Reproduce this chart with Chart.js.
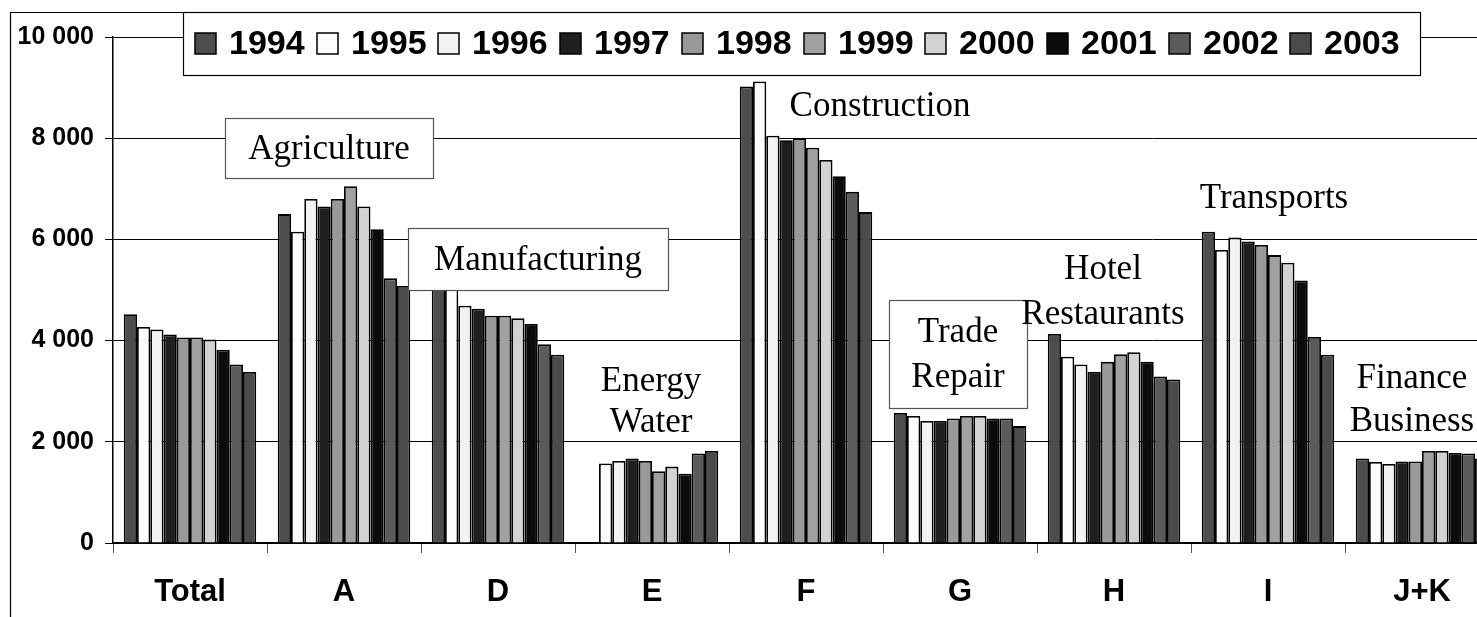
<!DOCTYPE html>
<html>
<head>
<meta charset="utf-8">
<title>Employment by sector 1994-2003</title>
<script src="https://cdn.jsdelivr.net/npm/chart.js@4.4.1/dist/chart.umd.min.js"></script>
<style>
  html, body { margin: 0; padding: 0; background: #fff; overflow: hidden; }
  canvas { display: block; }
</style>
</head>
<body>
<canvas id="chart" width="1500" height="617"></canvas>
<script>
const categories = ["Total", "A", "D", "E", "F", "G", "H", "I", "J+K"];
const years = ["1994", "1995", "1996", "1997", "1998", "1999", "2000", "2001", "2002", "2003"];

// one array per year, one value per sector (Total, A, D, E, F, G, H, I, J+K)
const v1994 = [4520, 6500, 5200, null, 9020, 2570, 4130, 6150, 1670];
const v1995 = [4270, 6150, 5100, 1570, 9120, 2510, 3680, 5790, 1600];
const v1996 = [4220, 6800, 4690, 1620, 8050, 2410, 3530, 6040, 1560];
const v1997 = [4120, 6650, 4630, 1670, 7960, 2410, 3380, 5960, 1610];
const v1998 = [4060, 6800, 4490, 1620, 8000, 2460, 3580, 5890, 1610];
const v1999 = [4060, 7050, 4490, 1420, 7810, 2510, 3730, 5690, 1820];
const v2000 = [4020, 6650, 4440, 1510, 7570, 2510, 3770, 5540, 1820];
const v2001 = [3820, 6200, 4330, 1370, 7250, 2460, 3580, 5190, 1780];
const v2002 = [3530, 5230, 3930, 1770, 6940, 2460, 3290, 4070, 1770];
const v2003 = [3380, 5080, 3720, 1820, 6540, 2310, 3230, 3720, 1670];

const yTickLabels = ["0", "2 000", "4 000", "6 000", "8 000", "10 000"];

const seriesValues = [v1994, v1995, v1996, v1997, v1998, v1999, v2000, v2001, v2002, v2003];
const yearColors = ["#4d4d4d", "#fcfcfc", "#f2f2f2", "#1f1f1f", "#999999",
                    "#a1a1a1", "#d2d2d2", "#0b0b0b", "#5b5b5b", "#4b4b4b"];

// sector names written on the plot, anchored to a category and a y value
const sectorNotes = [
  { lines: ["Agriculture"], cat: 1, dx: -15, v: 7806, box: [208, 60] },
  { lines: ["Manufacturing"], cat: 2, dx: 40, v: 5613, box: [260, 62] },
  { lines: ["Energy", "Water"], cat: 3, dx: -1, v: 2816, gap: 41 },
  { lines: ["Construction"], cat: 4, dx: 74, v: 8656 },
  { lines: ["Trade", "Repair"], cat: 5, dx: -2, v: 3740, box: [138, 108], gap: 45 },
  { lines: ["Hotel", "Restaurants"], cat: 6, dx: -11, v: 4990, gap: 45 },
  { lines: ["Transports"], cat: 7, dx: 6, v: 6838 },
  { lines: ["Finance", "Business"], cat: 8, dx: -10, v: 2856, gap: 43 }
];

const whiteBg = {
  id: "whiteBg",
  beforeDraw(chart) {
    const ctx = chart.ctx;
    ctx.save();
    ctx.fillStyle = "#fff";
    ctx.fillRect(0, 0, chart.width, chart.height);
    ctx.restore();
  }
};

const notesPlugin = {
  id: "sectorNotes",
  afterDatasetsDraw(chart) {
    const { ctx, scales: { x, y } } = chart;
    ctx.save();
    ctx.font = '35px "Liberation Serif", "Times New Roman", serif';
    ctx.textAlign = "center";
    ctx.textBaseline = "middle";
    sectorNotes.forEach(n => {
      const cx = x.getPixelForValue(n.cat) + n.dx;
      const cy = y.getPixelForValue(n.v);
      if (n.box) {
        const [w, h] = n.box;
        ctx.fillStyle = "#fff";
        ctx.fillRect(cx - w / 2, cy - h / 2, w, h);
        ctx.strokeStyle = "#555";
        ctx.lineWidth = 1.2;
        ctx.strokeRect(Math.round(cx - w / 2) + 0.5, Math.round(cy - h / 2) + 0.5, w, h);
      }
      ctx.fillStyle = "#000";
      const gap = n.gap || 0;
      n.lines.forEach((t, k) => {
        ctx.fillText(t, cx, cy + (k - (n.lines.length - 1) / 2) * gap + 2);
      });
    });
    ctx.restore();
  }
};

// outer frame and the boxed legend along the top
const frameLegend = {
  id: "frameLegend",
  afterDraw(chart) {
    const ctx = chart.ctx;
    ctx.save();
    ctx.strokeStyle = "#000";
    ctx.lineWidth = 1.2;
    ctx.beginPath();
    ctx.moveTo(10.5, chart.height);
    ctx.lineTo(10.5, 12.5);
    ctx.lineTo(190, 12.5);
    ctx.stroke();

    const lx = 183, ly = 12, lw = 1237, lh = 63;
    ctx.fillStyle = "#fff";
    ctx.fillRect(lx, ly, lw, lh);
    ctx.strokeRect(lx + 0.5, ly + 0.5, lw, lh);

    ctx.font = 'bold 34px "Liberation Sans", Arial, sans-serif';
    ctx.textBaseline = "middle";
    ctx.textAlign = "left";
    ctx.lineWidth = 1.5;
    chart.data.datasets.forEach((ds, i) => {
      const bx = Math.round(195 + i * 121.7);
      ctx.fillStyle = ds.backgroundColor;
      ctx.fillRect(bx, 33, 21, 21);
      ctx.strokeRect(bx, 33, 21, 21);
      ctx.fillStyle = "#000";
      ctx.fillText(ds.label, bx + 34, 45);
    });
    ctx.restore();
  }
};

const ctx = document.getElementById("chart").getContext("2d");

new Chart(ctx, {
  type: "bar",
  data: {
    labels: categories,
    datasets: years.map((yr, i) => ({
      label: yr,
      data: seriesValues[i],
      backgroundColor: yearColors[i],
      borderColor: "#000",
      borderWidth: 1.8,
      barPercentage: 1.0,
      categoryPercentage: 0.86
    }))
  },
  options: {
    responsive: false,
    animation: false,
    layout: { padding: { left: 10, right: 1, top: 37, bottom: 0 } },
    plugins: {
      legend: { display: false },
      tooltip: { enabled: false }
    },
    scales: {
      x: {
        afterFit(scale) { scale.height = 74; },
        grid: {
          offset: true,
          drawOnChartArea: false,
          drawTicks: true,
          tickLength: 10,
          color: "#555"
        },
        border: { display: true, color: "#000", width: 1.5 },
        ticks: {
          color: "#000",
          padding: 21,
          font: { family: '"Liberation Sans", Arial, sans-serif', size: 31, weight: "bold" }
        }
      },
      y: {
        min: 0,
        max: 10000,
        afterFit(scale) { scale.width = 103; },
        grid: { color: "#000", lineWidth: 1, tickLength: 8 },
        border: { display: true, color: "#000", width: 1.5 },
        ticks: {
          stepSize: 2000,
          color: "#000",
          padding: 11,
          font: { family: '"Liberation Sans", Arial, sans-serif', size: 25, weight: "bold" },
          callback: (val, idx) => yTickLabels[idx]
        }
      }
    }
  },
  plugins: [whiteBg, notesPlugin, frameLegend]
});
</script>
</body>
</html>
